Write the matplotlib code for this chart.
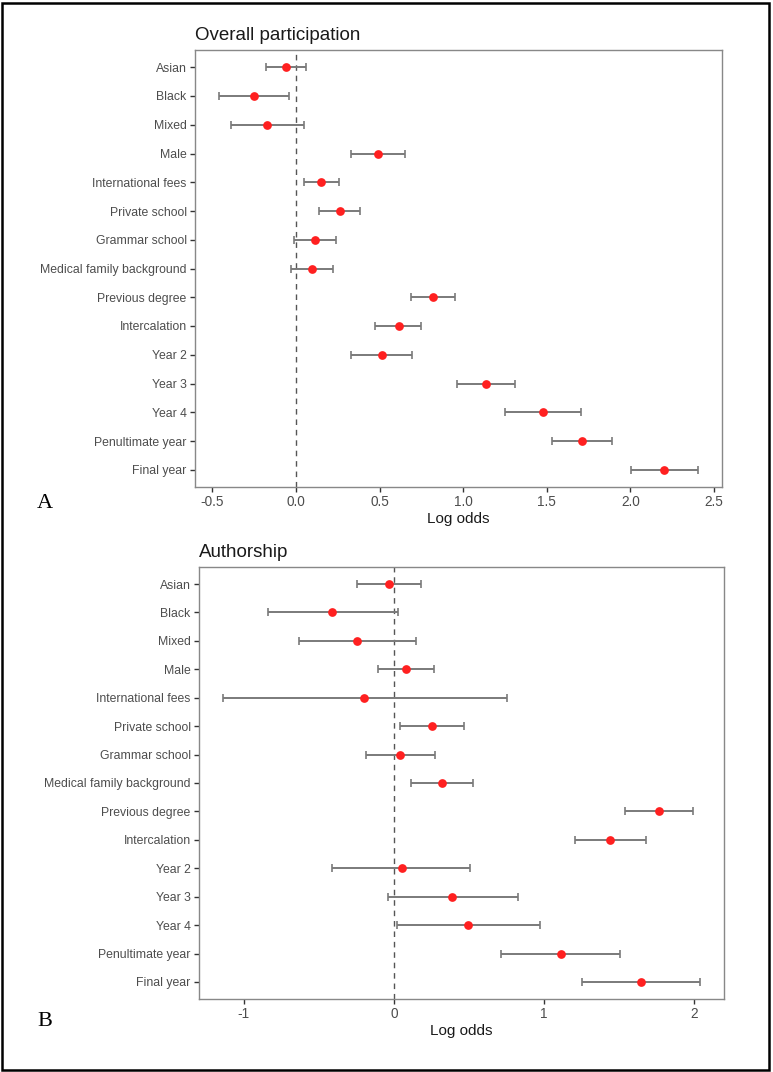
import numpy as np
import matplotlib
matplotlib.use('Agg')
import matplotlib.pyplot as plt
from matplotlib.patches import Rectangle

plt.rcParams['font.family'] = ['Liberation Sans', 'DejaVu Sans']
plt.rcParams['axes.unicode_minus'] = False

# 变量名称（从上到下）
labels = ['Asian', 'Black', 'Mixed', 'Male', 'International fees', 'Private school',
          'Grammar school', 'Medical family background', 'Previous degree', 'Intercalation',
          'Year 2', 'Year 3', 'Year 4', 'Penultimate year', 'Final year']

# A: Overall participation
part_est = [-0.062, -0.250, -0.175, 0.488, 0.148, 0.262, 0.115, 0.094,
            0.820, 0.615, 0.512, 1.138, 1.480, 1.710, 2.204]
part_lo = [-0.177, -0.461, -0.386, 0.330, 0.047, 0.139, -0.012, -0.031,
           0.686, 0.475, 0.330, 0.961, 1.250, 1.533, 2.005]
part_hi = [0.062, -0.039, 0.049, 0.654, 0.256, 0.385, 0.242, 0.223,
           0.953, 0.748, 0.691, 1.310, 1.707, 1.888, 2.405]
part_ticks = [-0.5, 0.0, 0.5, 1.0, 1.5, 2.0, 2.5]
part_ticklabels = ['-0.5', '0.0', '0.5', '1.0', '1.5', '2.0', '2.5']

# B: Authorship
auth_est = [-0.032, -0.415, -0.247, 0.078, -0.199, 0.256, 0.041, 0.322,
            1.763, 1.441, 0.051, 0.386, 0.491, 1.110, 1.642]
auth_lo = [-0.247, -0.840, -0.632, -0.103, -1.139, 0.041, -0.185, 0.116,
           1.537, 1.208, -0.415, -0.038, 0.018, 0.715, 1.251]
auth_hi = [0.178, 0.030, 0.149, 0.265, 0.753, 0.466, 0.272, 0.527,
           1.991, 1.676, 0.505, 0.825, 0.970, 1.503, 2.038]
auth_ticks = [-1, 0, 1, 2]
auth_ticklabels = ['-1', '0', '1', '2']


def forest(ax, est, lo, hi, ticks, ticklabels, title):
    est = np.array(est)
    lo = np.array(lo)
    hi = np.array(hi)
    n = len(labels)
    y = np.arange(n, 0, -1)
    ax.axvline(0, color='#555555', linestyle=(0, (4, 3.5)), linewidth=1.0, zorder=1)
    ax.errorbar(est, y, xerr=[est - lo, hi - est], fmt='none', ecolor='#7a7a7a',
                elinewidth=1.4, capsize=3, capthick=1.2, zorder=2)
    ax.plot(est, y, 'o', color='#ff2020', markersize=6.3, markeredgewidth=0, zorder=3)
    # ggplot 式的范围扩展
    span = max(hi) - min(lo)
    ax.set_xlim(min(lo) - 0.05 * span, max(hi) + 0.05 * span)
    ax.set_ylim(0.4, n + 0.6)
    ax.set_yticks(y)
    ax.set_yticklabels(labels)
    ax.set_xticks(ticks)
    ax.set_xticklabels(ticklabels)
    ax.tick_params(colors='#333333', labelcolor='#4d4d4d', length=3.5, width=1, pad=2.5)
    ax.tick_params(axis='y', labelsize=8.8)
    ax.tick_params(axis='x', labelsize=9.8)
    for s in ax.spines.values():
        s.set_color('#888888')
        s.set_linewidth(1.0)
    ax.set_xlabel('Log odds', fontsize=11, color='#1a1a1a', labelpad=2)
    ax.set_title(title, loc='left', fontsize=13.5, color='#1a1a1a', pad=7)


fig = plt.figure(figsize=(7.73, 10.72), dpi=100)
ax1 = fig.add_axes([195 / 773, 1 - 487 / 1072, 527 / 773, 437 / 1072])
ax2 = fig.add_axes([199 / 773, 1 - 999 / 1072, 525 / 773, 432 / 1072])

forest(ax1, part_est, part_lo, part_hi, part_ticks, part_ticklabels, 'Overall participation')
forest(ax2, auth_est, auth_lo, auth_hi, auth_ticks, auth_ticklabels, 'Authorship')

fig.text(37 / 773, 1 - 503 / 1072, 'A', family='Liberation Serif', fontsize=16, va='center')
fig.text(37 / 773, 1 - 1022 / 1072, 'B', family='Liberation Serif', fontsize=16, va='center')

fig.patches.append(Rectangle((2 / 773, 2 / 1072), 767 / 773, 1067 / 1072,
                             transform=fig.transFigure, fill=False,
                             edgecolor='black', linewidth=1.8))

fig.savefig('out.png', dpi=100)
